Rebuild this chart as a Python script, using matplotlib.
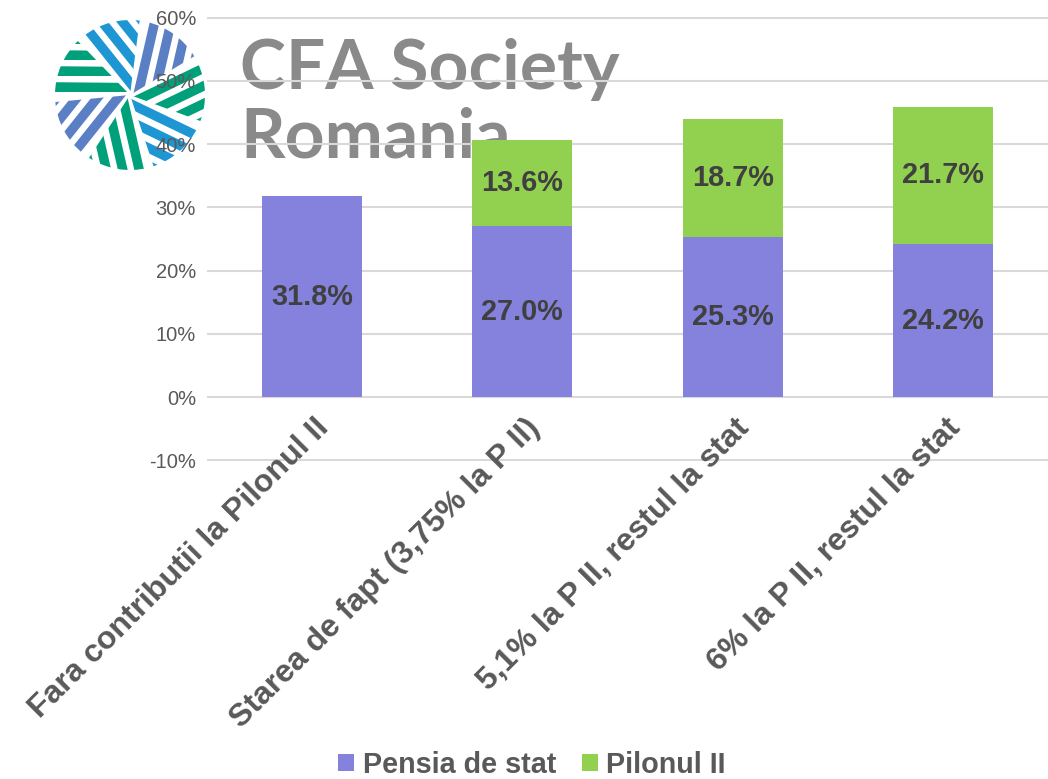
import numpy as np
import matplotlib.pyplot as plt
from matplotlib.patches import Patch, Polygon, Wedge

# data
categories = ['Fara contributii la Pilonul II',
              'Starea de fapt (3,75% la P II)',
              '5,1% la P II, restul la stat',
              '6% la P II, restul la stat']
pensia_stat = [31.8, 27.0, 25.3, 24.2]
pilonul_2 = [0.0, 13.6, 18.7, 21.7]
series_names = ['Pensia de stat', 'Pilonul II']
y_ticks = [-10, 0, 10, 20, 30, 40, 50, 60]

PURPLE = '#8482dc'
GREEN = '#92d050'
GREY = '#595959'
DARK = '#404040'
LOGO_GREY = '#8a8a8a'

plt.rcParams['font.family'] = ['Liberation Sans', 'DejaVu Sans']

W, H = 1048, 779
fig = plt.figure(figsize=(W / 100, H / 100), dpi=100)

# --- logo in the background (pinwheel + text) ---
lax = fig.add_axes([50 / W, 1 - 175 / H, 160 / W, 160 / H], zorder=0)
lax.set_xlim(-80, 80)
lax.set_ylim(-80, 80)
lax.set_aspect('equal')
lax.axis('off')
blade_angles = [180, 128.6, 77.1, 25.7, -25.7, -77.1, -128.6]
blade_colors = ['#00a07a', '#1e96d4', '#5b7fc4', '#00a07a', '#1e96d4', '#00a07a', '#5b7fc4']
R = 75
for ang, col in zip(blade_angles, blade_colors):
    a = np.radians(ang)
    u = np.array([np.cos(a), np.sin(a)])
    n = np.array([np.sin(a), -np.cos(a)])
    clip = Wedge((0, 0), R, ang - 46, ang, transform=lax.transData)
    for k in range(4):
        s0 = 3 + k * 16
        s1 = s0 + 9.5
        pts = [-10 * u + s0 * n, 100 * u + s0 * n, 100 * u + s1 * n, -10 * u + s1 * n]
        p = Polygon(pts, closed=True, fc=col, ec='none')
        lax.add_patch(p)
        p.set_clip_path(clip)

fig.text(240 / W, 1 - 89 / H, 'CFA Society', fontsize=50, color=LOGO_GREY,
         fontweight='bold', family='Lato', va='baseline', zorder=0.5)
fig.text(240 / W, 1 - 157 / H, 'Romania', fontsize=50, color=LOGO_GREY,
         fontweight='bold', family='Lato', va='baseline', zorder=0.5)

# --- main chart ---
ax = fig.add_axes([207 / W, 1 - 461 / H, (1048 - 207) / W, (461 - 17) / H], zorder=1)
ax.patch.set_alpha(0)
x = np.arange(len(categories))
ax.bar(x, pensia_stat, width=0.475, color=PURPLE, zorder=2)
ax.bar(x, pilonul_2, width=0.475, bottom=pensia_stat, color=GREEN, zorder=2)

for i in range(len(categories)):
    ax.text(i, pensia_stat[i] / 2, f'{pensia_stat[i]:.1f}%', ha='center', va='center',
            fontsize=20.8, fontweight='bold', color=DARK, zorder=3)
    if pilonul_2[i] > 0:
        ax.text(i, pensia_stat[i] + pilonul_2[i] / 2, f'{pilonul_2[i]:.1f}%', ha='center',
                va='center', fontsize=20.8, fontweight='bold', color=DARK, zorder=3)

ax.set_xlim(-0.5, 3.5)
ax.set_ylim(-10.1, 60.1)
ax.set_yticks(y_ticks)
ax.set_yticklabels([f'{v}%' for v in y_ticks])
ax.set_xticks([])
ax.yaxis.grid(True, color='#d9d9d9', lw=1.5)
ax.set_axisbelow(True)
ax.tick_params(axis='y', length=0, pad=8, labelsize=14.5, labelcolor=GREY)
for s in ax.spines.values():
    s.set_visible(False)

# category labels sit next to the 0% line, rotated
for i, cat in enumerate(categories):
    ax.text(i + 0.01, -2.5, cat, rotation=45, rotation_mode='anchor',
            ha='right', va='top', fontsize=23, fontweight='bold', color=GREY,
            clip_on=False, zorder=3)

fig.legend(handles=[Patch(fc=PURPLE), Patch(fc=GREEN)], labels=series_names,
           loc='center', bbox_to_anchor=(532 / W, 1 - 765 / H), ncol=2, frameon=False,
           prop={'weight': 'bold', 'size': 20.7}, labelcolor=GREY,
           handlelength=0.55, handleheight=0.55, handletextpad=0.3, columnspacing=0.9)

plt.savefig('out.png', dpi=100)
